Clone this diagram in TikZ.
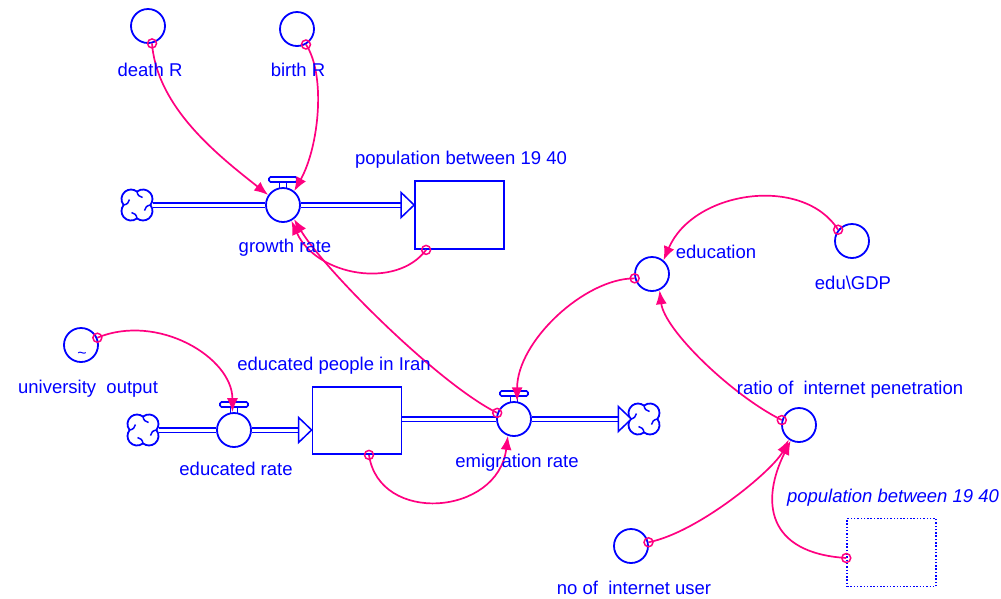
\documentclass[tikz,border=0pt]{standalone}
\usepackage{fontspec}
\setmainfont{Liberation Sans}
\usetikzlibrary{calc,arrows.meta}

\definecolor{vblue}{RGB}{0,0,255}
\definecolor{vpink}{RGB}{255,0,128}

\tikzset{
  aux/.style={circle,draw=vblue,line width=1.8pt,minimum size=34pt,inner sep=0pt},
  cloudnode/.style={circle,minimum size=31pt,inner sep=0pt},
  stock/.style={rectangle,draw=vblue,line width=1.8pt,minimum width=89pt,minimum height=68pt,inner sep=0pt},
  shadow/.style={stock,line width=1.5pt,dash pattern=on 1.5pt off 1.8pt},
  lbl/.style={text=vblue,font=\fontsize{18.5}{22}\selectfont,inner sep=0pt,anchor=base},
  pipe/.style={draw=vblue,double=white,double distance=3pt,line width=1.5pt},
  link/.style={vpink,line width=1.7pt,-{Latex[length=14pt,width=11pt]}},
  tap/.style={vpink,line width=1.5pt},
  cloud/.pic={
    \foreach \a in {0,90,180,270}{
      \draw[vblue,line width=1.8pt,rotate=\a] (13.4,0) arc[start angle=-39,end angle=129,radius=9.5];
      \draw[vblue,line width=1.5pt,rotate=\a] (13.4,0) .. controls (10,0.5) and (8,2.5) .. (7.5,5.5);
    }
  },
  valve/.pic={
    \draw[vblue,line width=1.6pt] (-3.5,-16.5) -- (-3.5,-23) (3.5,-16.5) -- (3.5,-23);
    \draw[vblue,line width=1.6pt,rounded corners=1.5pt] (-14,-23) rectangle (14,-28);
  }
}
\newcommand\linktap[1]{\draw[tap] (#1) circle[radius=4.5];}
\newcommand\flowhead[1]{\draw[vblue,line width=1.5pt,fill=white] (#1) -- ++(-13,-12.5) -- ++(0,25) -- cycle;}

\begin{document}
\begin{tikzpicture}[x=1pt,y=-1pt]
\useasboundingbox (0,0) rectangle (1001,598);

% auxiliaries, stocks and clouds
\node[aux] (dR) at (148,26) {};
\node[aux] (bR) at (297,29) {};
\node[cloudnode] (src1) at (137,205) {};
\node[aux] (gr) at (283,205) {};
\node[stock] (pop) at (459.5,215) {};
\node[aux] (edu) at (652,274) {};
\node[aux] (gdp) at (852,241) {};
\node[aux] (uni) at (81,345) {};
\node[cloudnode] (src2) at (143,430) {};
\node[aux] (er) at (234,430) {};
\node[stock,minimum height=67pt] (edp) at (357,420.5) {};
\node[aux] (em) at (514,419) {};
\node[cloudnode] (snk) at (644,419) {};
\node[aux] (rat) at (799,425) {};
\node[aux] (noi) at (631,546) {};
\node[shadow] (shd) at (891.5,552.5) {};

\pic at (src1) {cloud};
\pic at (src2) {cloud};
\pic at (snk) {cloud};
\pic at (gr) {valve};
\pic at (er) {valve};
\pic at (em) {valve};
\node[text=vblue,font=\fontsize{16}{16}\selectfont,inner sep=0pt] (unitilde) at (82,355) {\textasciitilde};

% flows
\draw[pipe] (src1) -- (gr);
\coordinate (popin) at (pop.west |- gr);
\draw[pipe] (gr) -- ($(popin)+(-13,0)$);
\flowhead{popin}
\draw[pipe] (src2) -- (er);
\coordinate (edpin) at (edp.west |- er);
\draw[pipe] (er) -- ($(edpin)+(-13,0)$);
\flowhead{edpin}
\draw[pipe] (edp.east |- em) -- (em);
\coordinate (snkin) at ($(snk.west)+(3,0)$);
\draw[pipe] (em) -- ($(snkin)+(-13,0)$);
\flowhead{snkin}

% links
\coordinate (poptap) at ($(pop.south west)+(12,0)$);
\coordinate (edptap) at ($(edp.south)+(12,0)$);
\coordinate (shdtap) at ($(shd.west)+(0,5.5)$);
\draw[link] (dR.-77) .. controls +(5,65) and +(-48,-38) .. (gr.146);
\draw[link] (bR.-60) .. controls +(20,30) and +(25,-45) .. (gr.51);
\draw[link] (poptap) .. controls +(-30,40) and +(25,55) .. (gr.-62);
\draw[link] (em.160) .. controls +(-60,-30) and +(30,50) .. (gr.-52);
\draw[link] (edptap) .. controls +(10,70) and +(-10,80) .. (em.-110);
\draw[link] (edu.194) .. controls +(-50,0) and +(0,-60) .. (em.80);
\draw[link] (gdp.141) .. controls +(-35,-55) and +(30,-70) .. (edu.50);
\draw[link] (rat.164) .. controls +(-50,-25) and +(5,40) .. (edu.-65);
\draw[link] (noi.12) .. controls +(50,-10) and +(-15,30) .. (rat.-125);
\draw[link] (shdtap) .. controls +(-80,-5) and +(-30,60) .. (rat.-118);
\draw[link] (uni.24) .. controls +(60,-25) and +(0,-55) .. (er.95);
\linktap{dR.-77}
\linktap{bR.-60}
\linktap{poptap}
\linktap{em.160}
\linktap{edptap}
\linktap{edu.194}
\linktap{gdp.141}
\linktap{rat.164}
\linktap{noi.12}
\linktap{shdtap}
\linktap{uni.24}

% labels
\node[lbl] (dRlbl) at (150,76) {death R};
\node[lbl] (bRlbl) at (298,76) {birth R};
\node[lbl] (poplbl) at (461,164) {population between 19 40};
\node[lbl] (grlbl) at (285,252) {growth rate};
\node[lbl] (edulbl) at (716,258) {education};
\node[lbl] (gdplbl) at (853,289) {edu\textbackslash GDP};
\node[lbl] (unilbl) at (88,393) {university\ \ output};
\node[lbl] (edplbl) at (334,370) {educated people in Iran};
\node[lbl] (erlbl) at (236,475) {educated rate};
\node[lbl] (emlbl) at (517,467) {emigration rate};
\node[lbl] (ratlbl) at (850,394) {ratio of\ \ internet penetration};
\node[lbl,font=\fontsize{18.5}{22}\selectfont\itshape] (shdlbl) at (893,502) {population between 19 40};
\node[lbl] (noilbl) at (634,594) {no of\ \ internet user};
\end{tikzpicture}
\end{document}
